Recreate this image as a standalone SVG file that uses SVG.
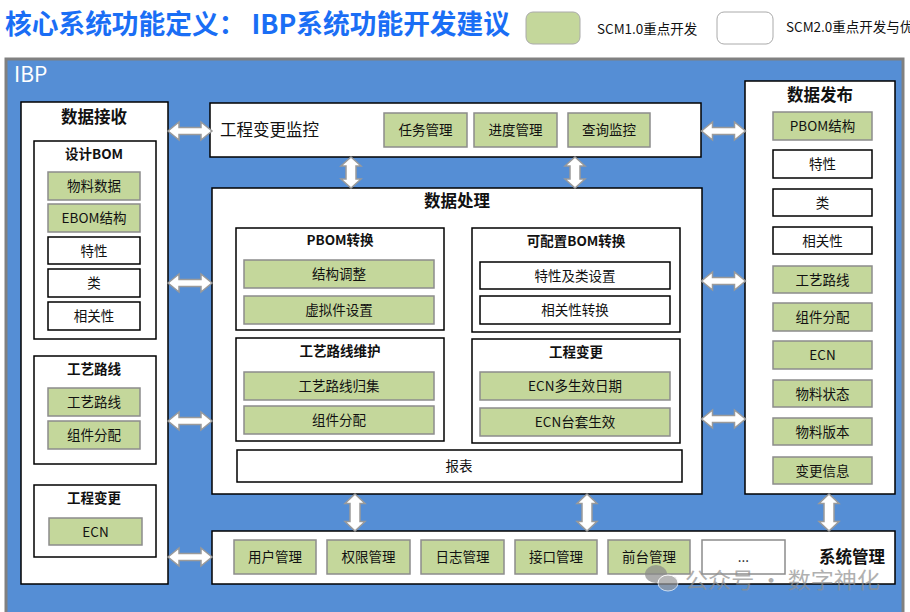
<svg xmlns="http://www.w3.org/2000/svg" width="910" height="612" viewBox="0 0 910 612">
<style>
text{font-family:"Noto Sans CJK SC","Microsoft YaHei",sans-serif;fill:#111;}
.box{fill:#fff;stroke:#000;stroke-width:1.5;}
.g{fill:#C4D79B;stroke:#8c8c8c;stroke-width:1.5;}
.w{fill:#fff;stroke:#000;stroke-width:1.5;}
.t{font-size:13.5px;text-anchor:middle;dominant-baseline:central;transform:translateY(-1px);}
.h1{font-size:16.5px;font-weight:bold;text-anchor:middle;dominant-baseline:central;transform:translateY(-1px);}
.h2{font-size:13.5px;font-weight:bold;text-anchor:middle;dominant-baseline:central;transform:translateY(-1px);}
.arr{fill:#fff;stroke:#9a9a9a;stroke-width:1.5;}
</style>
<defs>
<path id="ha" d="M-22,0 L-11,-9 L-11,-3.5 L11,-3.5 L11,-9 L22,0 L11,9 L11,3.5 L-11,3.5 L-11,9 Z"/>
<path id="va1" d="M0,-15.5 L10,-6.5 L5,-6.5 L5,6.5 L10,6.5 L0,15.5 L-10,6.5 L-5,6.5 L-5,-6.5 L-10,-6.5 Z"/>
<path id="va2" d="M0,-18.5 L10,-9 L5,-9 L5,9 L10,9 L0,18.5 L-10,9 L-5,9 L-5,-9 L-10,-9 Z"/>
</defs>
<rect width="910" height="612" fill="#fff"/>
<g id="header">
<text x="5" y="34" font-size="27" font-weight="bold" textLength="505" lengthAdjust="spacingAndGlyphs" style="fill:#1a6ef5">核心系统功能定义： IBP系统功能开发建议</text>
<rect x="526" y="12" width="54" height="32" rx="7" fill="#C4D79B" stroke="#aaa" stroke-width="1"/>
<text x="597" y="28" font-size="13.5" dominant-baseline="central">SCM1.0重点开发</text>
<rect x="717" y="12" width="56" height="32" rx="7" fill="#fff" stroke="#aaa" stroke-width="1"/>
<text x="786" y="26" font-size="13.5" dominant-baseline="central">SCM2.0重点开发与优</text>
</g>
<rect id="ibp-panel" x="6" y="59" width="897" height="560" fill="#558ED5" stroke="#808080" stroke-width="3"/>
<text x="14" y="82" font-size="21" style="fill:#fff">IBP</text>

<g id="data-receive">
<rect class="box" x="21" y="102" width="147" height="482"/>
<text class="h1" x="94" y="117">数据接收</text>
<rect class="box" x="34" y="141" width="122" height="198"/>
<text class="h2" x="94" y="154">设计BOM</text>
<rect class="g" x="48" y="172" width="92" height="28"/><text class="t" x="94" y="186">物料数据</text>
<rect class="g" x="48" y="204" width="92" height="28"/><text class="t" x="94" y="218">EBOM结构</text>
<rect class="w" x="48" y="237" width="92" height="27"/><text class="t" x="94" y="250.5">特性</text>
<rect class="w" x="48" y="269" width="92" height="28"/><text class="t" x="94" y="283">类</text>
<rect class="w" x="48" y="302" width="92" height="28"/><text class="t" x="94" y="316">相关性</text>
<rect class="box" x="34" y="356" width="122" height="108"/>
<text class="h2" x="94" y="369">工艺路线</text>
<rect class="g" x="48" y="388" width="92" height="28"/><text class="t" x="94" y="402">工艺路线</text>
<rect class="g" x="48" y="421" width="92" height="28"/><text class="t" x="94" y="435">组件分配</text>
<rect class="box" x="34" y="485" width="122" height="72"/>
<text class="h2" x="94" y="498">工程变更</text>
<rect class="g" x="49" y="518" width="93" height="27"/><text class="t" x="95.5" y="531.5">ECN</text>
</g>

<g id="change-monitor">
<rect class="box" x="210" y="103" width="491" height="54"/>
<text x="220" y="128.5" font-size="16.5" dominant-baseline="central">工程变更监控</text>
<rect class="g" x="384" y="113" width="83" height="34"/><text class="t" x="425.5" y="130">任务管理</text>
<rect class="g" x="474" y="113" width="83" height="34"/><text class="t" x="515.5" y="130">进度管理</text>
<rect class="g" x="568" y="113" width="82" height="34"/><text class="t" x="609" y="130">查询监控</text>
</g>

<g id="data-process">
<rect class="box" x="212" y="188" width="490" height="306"/>
<text class="h1" x="457" y="201">数据处理</text>
<rect class="box" x="236" y="228" width="208" height="102"/>
<text class="h2" x="340" y="240">PBOM转换</text>
<rect class="g" x="244" y="260" width="190" height="28"/><text class="t" x="339" y="274">结构调整</text>
<rect class="g" x="244" y="296" width="190" height="28"/><text class="t" x="339" y="310">虚拟件设置</text>
<rect class="box" x="472" y="228" width="208" height="104"/>
<text class="h2" x="576" y="241">可配置BOM转换</text>
<rect class="w" x="480" y="262" width="190" height="27"/><text class="t" x="575" y="275.5">特性及类设置</text>
<rect class="w" x="480" y="296" width="190" height="28"/><text class="t" x="575" y="310">相关性转换</text>
<rect class="box" x="236" y="338" width="208" height="103"/>
<text class="h2" x="340" y="351">工艺路线维护</text>
<rect class="g" x="244" y="372" width="190" height="28"/><text class="t" x="339" y="386">工艺路线归集</text>
<rect class="g" x="244" y="406" width="190" height="28"/><text class="t" x="339" y="420">组件分配</text>
<rect class="box" x="472" y="339" width="208" height="104"/>
<text class="h2" x="576" y="352">工程变更</text>
<rect class="g" x="480" y="372" width="190" height="28"/><text class="t" x="575" y="386">ECN多生效日期</text>
<rect class="g" x="480" y="408" width="190" height="28"/><text class="t" x="575" y="422">ECN台套生效</text>
<rect class="w" x="237" y="450" width="445" height="32"/><text class="t" x="459" y="466">报表</text>
</g>

<g id="data-publish">
<rect class="box" x="745" y="81" width="150" height="413"/>
<text class="h1" x="820" y="95">数据发布</text>
<rect class="g" x="773" y="112" width="99" height="28"/><text class="t" x="822.5" y="126">PBOM结构</text>
<rect class="w" x="773" y="150" width="99" height="28"/><text class="t" x="822.5" y="164">特性</text>
<rect class="w" x="773" y="189" width="99" height="27"/><text class="t" x="822.5" y="202.5">类</text>
<rect class="w" x="773" y="227" width="99" height="27"/><text class="t" x="822.5" y="240.5">相关性</text>
<rect class="g" x="773" y="266" width="99" height="27"/><text class="t" x="822.5" y="279.5">工艺路线</text>
<rect class="g" x="773" y="303" width="99" height="28"/><text class="t" x="822.5" y="317">组件分配</text>
<rect class="g" x="773" y="341" width="99" height="28"/><text class="t" x="822.5" y="355">ECN</text>
<rect class="g" x="773" y="380" width="99" height="27"/><text class="t" x="822.5" y="393.5">物料状态</text>
<rect class="g" x="773" y="418" width="99" height="27"/><text class="t" x="822.5" y="431.5">物料版本</text>
<rect class="g" x="773" y="457" width="99" height="27"/><text class="t" x="822.5" y="470.5">变更信息</text>
</g>

<g id="system-mgmt">
<rect class="box" x="212" y="531" width="683" height="53"/>
<rect class="g" x="234" y="540" width="82" height="34"/><text class="t" x="275" y="557">用户管理</text>
<rect class="g" x="327" y="540" width="83" height="34"/><text class="t" x="368.5" y="557">权限管理</text>
<rect class="g" x="421" y="540" width="83" height="34"/><text class="t" x="462.5" y="557">日志管理</text>
<rect class="g" x="515" y="540" width="82" height="34"/><text class="t" x="556" y="557">接口管理</text>
<rect class="g" x="608" y="540" width="82" height="34"/><text class="t" x="649" y="557">前台管理</text>
<rect x="702" y="540" width="83" height="34" fill="#fff" stroke="#8c8c8c" stroke-width="1.5"/><text class="t" x="743.5" y="557">...</text>
<text x="885" y="556" font-size="16.5" font-weight="bold" text-anchor="end" dominant-baseline="central">系统管理</text>
</g>

<g id="connectors" class="arr">
<use href="#ha" x="190" y="131"/>
<use href="#ha" x="190" y="283"/>
<use href="#ha" x="190" y="421"/>
<use href="#ha" x="190" y="557"/>
<use href="#ha" x="723.5" y="131"/>
<use href="#ha" x="723.5" y="281"/>
<use href="#ha" x="723.5" y="419"/>
<use href="#va1" x="351" y="172.5"/>
<use href="#va1" x="575" y="172.5"/>
<use href="#va2" x="355" y="512.5"/>
<use href="#va2" x="587" y="512.5"/>
<use href="#va2" x="829" y="512.5"/>
</g>

<g id="watermark" opacity="0.7">
<ellipse cx="656" cy="574" rx="11" ry="9" fill="#8a8a8a"/>
<ellipse cx="668" cy="583" rx="10" ry="8" fill="#9a9a9a" stroke="#fff" stroke-width="1"/>
<text x="685" y="588" font-size="22" textLength="195" lengthAdjust="spacingAndGlyphs" style="fill:#8f8f8f">公众号 · 数字神化</text>
</g>
</svg>
